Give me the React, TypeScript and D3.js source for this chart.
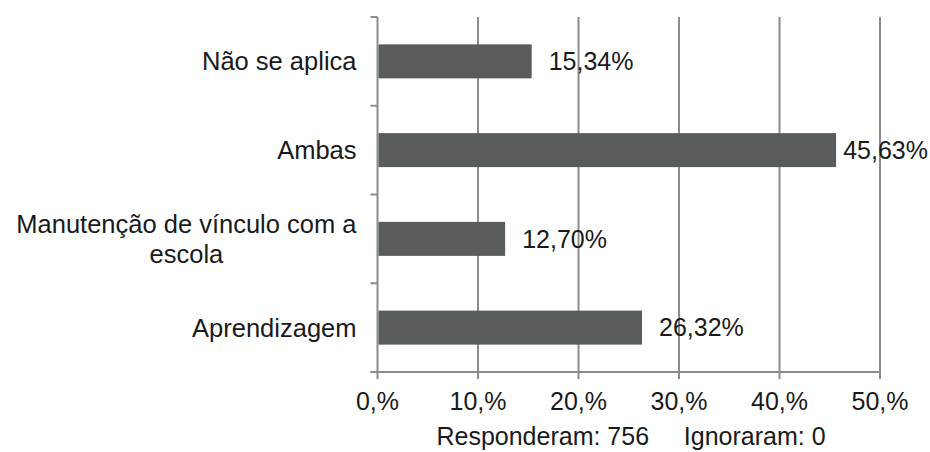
import React, { useEffect, useRef } from 'react';
import * as d3 from 'd3';

const categories = ['Não se aplica', 'Ambas', 'Manutenção de vínculo com a escola', 'Aprendizagem'];
const values = [15.34, 45.63, 12.7, 26.32];
const valueLabels = ['15,34%', '45,63%', '12,70%', '26,32%'];
const tickValues = [0, 10, 20, 30, 40, 50];
const tickLabels = ['0,%', '10,%', '20,%', '30,%', '40,%', '50,%'];
const footer = 'Responderam: 756     Ignoraram: 0';

const W = 930;
const H = 452;
const FONT = '"Liberation Sans", Arial, sans-serif';

export default function App() {
  const ref = useRef<SVGSVGElement>(null);

  useEffect(() => {
    const svg = d3.select(ref.current);
    svg.selectAll('*').remove();

    const margin = { top: 17, right: 50, bottom: 80, left: 377.5 };
    const x = d3.scaleLinear().domain([0, 50]).range([margin.left, 880]);
    const y = d3.scaleBand<string>()
      .domain(categories)
      .range([margin.top, H - margin.bottom])
      .paddingInner(0.617)
      .paddingOuter(0.3085);

    const grid = '#8c8c8c';
    const textColor = '#1a1a1a';
    const y0 = margin.top;
    const y1 = H - margin.bottom;

    // vertical gridlines + tick marks
    svg.append('g')
      .selectAll('line')
      .data(tickValues)
      .join('line')
      .attr('x1', d => x(d)).attr('x2', d => x(d))
      .attr('y1', y0).attr('y2', y1 + 7)
      .attr('stroke', grid).attr('stroke-width', 2);

    // horizontal axis line
    svg.append('line')
      .attr('x1', x(0) - 7).attr('x2', x(50))
      .attr('y1', y1).attr('y2', y1)
      .attr('stroke', grid).attr('stroke-width', 2);

    // category boundary ticks on y axis
    const bounds = d3.range(categories.length + 1).map(i => y0 + i * (y1 - y0) / categories.length);
    svg.append('g')
      .selectAll('line')
      .data(bounds)
      .join('line')
      .attr('x1', x(0) - 7).attr('x2', x(0))
      .attr('y1', d => d).attr('y2', d => d)
      .attr('stroke', grid).attr('stroke-width', 2);

    // bars
    svg.append('g')
      .selectAll('rect')
      .data(values)
      .join('rect')
      .attr('x', x(0) + 1)
      .attr('y', (d, i) => y(categories[i])!)
      .attr('width', d => x(d) - x(0) - 1)
      .attr('height', y.bandwidth())
      .attr('fill', '#595c5c');

    // tick labels
    svg.append('g')
      .selectAll('text')
      .data(tickValues)
      .join('text')
      .attr('x', d => x(d))
      .attr('y', 410)
      .attr('text-anchor', 'middle')
      .attr('font-family', FONT)
      .attr('font-size', 25)
      .attr('fill', textColor)
      .text((d, i) => tickLabels[i]);

    // value labels
    svg.append('g')
      .selectAll('text')
      .data(values)
      .join('text')
      .attr('y', (d, i) => y(categories[i])! + y.bandwidth() / 2)
      .attr('dy', '0.35em')
      .attr('font-family', FONT)
      .attr('font-size', 25)
      .attr('fill', textColor)
      .text((d, i) => valueLabels[i])
      .each(function (d) {
        const t = this as SVGTextElement;
        const w = t.getComputedTextLength();
        t.setAttribute('x', String(Math.min(x(d) + 17, W - 2 - w)));
      });

    // category labels, wrapped
    const labelRight = x(0) - 21;
    const maxW = 350;
    const lab = svg.append('g');
    categories.forEach(cat => {
      const cy = y(cat)! + y.bandwidth() / 2;
      const t = lab.append('text')
        .attr('font-family', FONT)
        .attr('font-size', 25.5)
        .attr('fill', textColor)
        .attr('text-anchor', 'middle');
      const words = cat.split(' ');
      const lines: string[] = [];
      let cur: string[] = [];
      const probe = t.append('tspan');
      words.forEach(wd => {
        const test = [...cur, wd].join(' ');
        probe.text(test);
        if ((probe.node() as SVGTextContentElement).getComputedTextLength() > maxW && cur.length) {
          lines.push(cur.join(' '));
          cur = [wd];
        } else {
          cur.push(wd);
        }
      });
      lines.push(cur.join(' '));
      probe.remove();
      let widest = 0;
      const lh = 30;
      lines.forEach((ln, i) => {
        const ts = t.append('tspan')
          .attr('y', cy + (i - (lines.length - 1) / 2) * lh)
          .attr('dy', '0.35em')
          .text(ln);
        widest = Math.max(widest, (ts.node() as SVGTextContentElement).getComputedTextLength());
      });
      t.selectAll('tspan').attr('x', labelRight - widest / 2);
    });

    // footer
    svg.append('text')
      .attr('x', 631)
      .attr('y', 445)
      .attr('text-anchor', 'middle')
      .attr('font-family', FONT)
      .attr('font-size', 25)
      .attr('fill', textColor)
      .style('white-space', 'pre')
      .text(footer);
  }, []);

  return (
    <svg
      ref={ref}
      width={W}
      height={H}
      style={{ position: 'absolute', left: 0, top: 0, display: 'block', background: '#fff' }}
    />
  );
}
